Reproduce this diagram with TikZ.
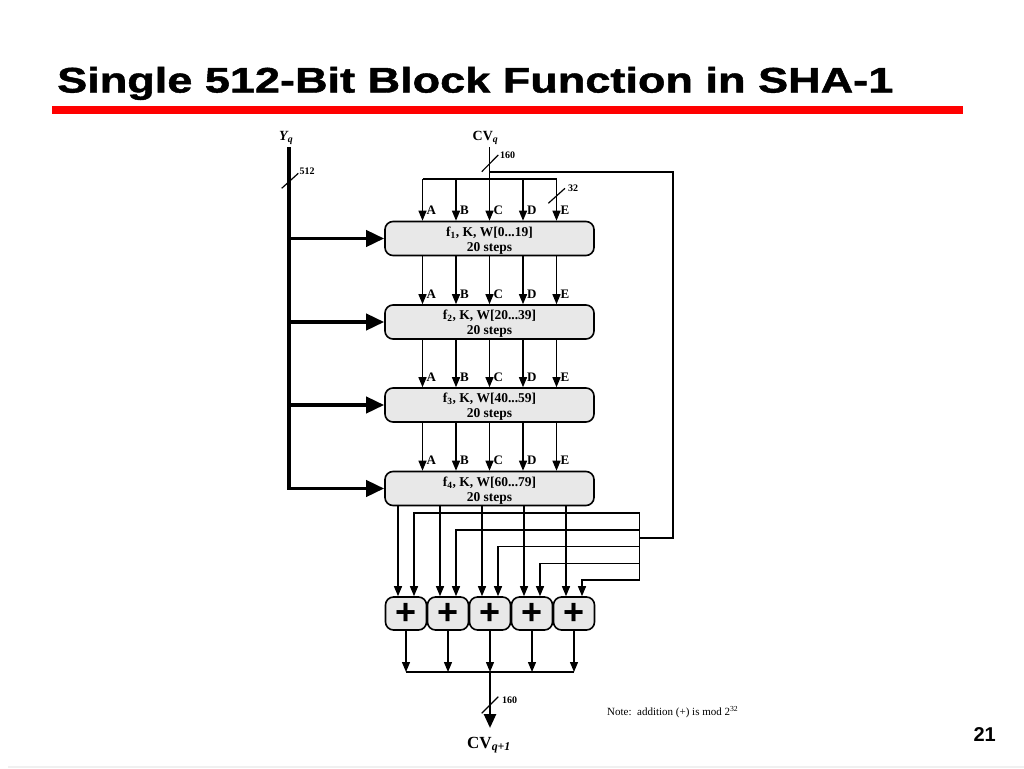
\documentclass[tikz,border=0pt]{standalone}
\usepackage{fontspec}
\usepackage{graphicx}
\setmainfont{Liberation Serif}
\newfontfamily\sansf{Liberation Sans}
\newfontfamily\titlef[BoldFeatures={FakeBold=1.2}]{Liberation Sans}
\usetikzlibrary{arrows.meta}
\newcommand{\blktext}[1]{\raisebox{0pt}[\dimexpr\height+4pt\relax]{\begin{tabular}{@{}c@{}}#1\end{tabular}}}
\begin{document}
\begin{tikzpicture}[x=1pt,y=-1pt,
  thinline/.style={line width=1.3pt},
  tarrow/.style={line width=1.3pt,-{Triangle[length=10pt,width=8pt]}},
  bigarrow/.style={line width=3.8pt,-{Triangle[length=18pt,width=16pt]}},
  outarrow/.style={line width=2.6pt,-{Triangle[length=14pt,width=12pt]}},
  blk/.style={draw,line width=1.6pt,fill=gray!18,rounded corners=8pt,minimum width=209pt,minimum height=34pt,inner sep=0pt,align=center,font=\fontsize{13.5}{15}\selectfont\bfseries},
  adder/.style={draw,line width=1.6pt,fill=gray!18,rounded corners=8pt,minimum width=41pt,minimum height=33pt,inner sep=0pt,font=\sansf\bfseries\fontsize{36}{36}\selectfont},
  lbl/.style={font=\fontsize{13}{13}\selectfont\bfseries,anchor=base west,inner sep=0pt},
  num/.style={font=\fontsize{10}{10}\selectfont\bfseries,anchor=west,inner sep=0pt},
  slash/.style={line width=1.2pt},
]
\useasboundingbox (0,0) rectangle (1024,768);
\fill[white] (0,0) rectangle (1024,768);
% title
\node[anchor=base west,inner sep=0pt,font=\titlef\bfseries\fontsize{35.5}{36}\selectfont] (title) at (57,92.5) {\resizebox{836pt}{\height}{Single 512-Bit Block Function in SHA-1}};
\fill[red] (52,106) rectangle (963,114);
\fill[gray!12] (8,765.5) rectangle (1024,768);
% page number
\node[anchor=base east,inner sep=0pt,font=\sansf\bfseries\fontsize{20}{20}\selectfont] (page) at (996,741) {21};

% column positions
\coordinate (colA) at (422.5,0);
\coordinate (colB) at (456,0);
\coordinate (colC) at (489.5,0);
\coordinate (colD) at (523,0);
\coordinate (colE) at (556.5,0);

% blocks
\node[blk] (b1) at (489.5,238.5) {\blktext{f\textsubscript{1}, K, W[0...19]\\20 steps}};
\node[blk] (b2) at (489.5,322) {\blktext{f\textsubscript{2}, K, W[20...39]\\20 steps}};
\node[blk] (b3) at (489.5,405) {\blktext{f\textsubscript{3}, K, W[40...59]\\20 steps}};
\node[blk] (b4) at (489.5,488.5) {\blktext{f\textsubscript{4}, K, W[60...79]\\20 steps}};

% inputs
\node[anchor=base west,inner sep=0pt,font=\fontsize{14}{14}\selectfont\bfseries\itshape] (yq) at (279,140.7) {Y\textsubscript{q}};
\node[anchor=base west,inner sep=0pt,font=\fontsize{14}{14}\selectfont\bfseries] (cvq) at (472.5,140.7) {CV\textsubscript{\itshape q}};

% Y_q bus
\coordinate (ytop) at (289,147);
\coordinate (ybot) at (289,488.5);
\draw[line width=3.8pt] (ytop) -- (ybot);
\draw[bigarrow] (ybot |- b1.west) -- (b1.west);
\draw[bigarrow] (ybot |- b2.west) -- (b2.west);
\draw[bigarrow] (ybot |- b3.west) -- (b3.west);
\draw[bigarrow,line cap=butt] ([xshift=-1.9pt]ybot) -- (b4.west);
\draw[slash] (281.7,188.3) -- (298.3,173.3);
\node[num] (n512) at (299.5,171.5) {512};

% CV_q bus
\coordinate (cvtop) at (489.5,147);
\coordinate (cvk) at (489.5,172);
\coordinate (bus0) at (489.5,179);
\coordinate (fbR) at (673,538);
\coordinate (fbJ) at (639.5,538);
\draw[thinline] (cvtop) -- (bus0);
\draw[thinline] (colA |- bus0) -- (colE |- bus0);
\draw[thinline] (cvk) -| (fbR) -- (fbJ);
\draw[slash] (481.7,171.7) -- (498.3,155);
\node[num] (n160a) at (500,155.5) {160};
\draw[slash] (548.3,203.3) -- (565,188.3);
\node[num] (n32) at (568,188) {32};

\foreach \c in {A,B,C,D,E} {
  \draw[tarrow] (col\c |- bus0) -- (col\c |- b1.north);
  \node[lbl] at ([xshift=4pt,yshift=6pt]col\c |- b1.north) {\c};
}
\foreach \p/\n in {b1/b2,b2/b3,b3/b4} {
  \foreach \c in {A,B,C,D,E} {
    \draw[tarrow] (col\c |- \p.south) -- (col\c |- \n.north);
    \node[lbl] at ([xshift=4pt,yshift=6pt]col\c |- \n.north) {\c};
  }
}

% adders
\node[adder] (s1) at (406,613.5) {+};
\node[adder] (s2) at (448,613.5) {+};
\node[adder] (s3) at (490,613.5) {+};
\node[adder] (s4) at (532,613.5) {+};
\node[adder] (s5) at (574,613.5) {+};

% outputs of last block into adders
\foreach \s in {1,...,5} {
  \draw[tarrow] ([xshift=-8pt]s\s.north |- b4.south) -- ([xshift=-8pt]s\s.north);
}
% feedback bus
\coordinate (fbtop) at (639.5,513);
\coordinate (fbbot) at (639.5,580);
\draw[thinline] (fbtop) -- (fbbot);
\draw[tarrow] (fbtop) -| ([xshift=8pt]s1.north);
\draw[tarrow] (639.5,530) -| ([xshift=8pt]s2.north);
\draw[tarrow] (639.5,546.7) -| ([xshift=8pt]s3.north);
\draw[tarrow] (639.5,563.3) -| ([xshift=8pt]s4.north);
\draw[tarrow] (fbbot) -| ([xshift=8pt]s5.north);

% output bus
\coordinate (obus) at (490,672);
\coordinate (cvout) at (490,728);
\foreach \s in {1,...,5} {
  \draw[tarrow] (s\s.south) -- (s\s.south |- obus);
}
\draw[thinline] (s1.south |- obus) -- (s5.south |- obus);
\draw[outarrow] (obus) -- (cvout);
\draw[slash] (481.7,713.3) -- (498.3,696.7);
\node[num] (n160b) at (502,700) {160};
\node[anchor=base west,inner sep=0pt,font=\fontsize{17}{17}\selectfont\bfseries] (cvq1) at (467,748) {CV\textsubscript{\itshape q+1}};

\node[anchor=west,inner sep=0pt,font=\fontsize{11}{12}\selectfont] (note) at (607,712.5) {Note:\ \ addition (+) is mod 2\textsuperscript{32}};
\end{tikzpicture}
\end{document}
